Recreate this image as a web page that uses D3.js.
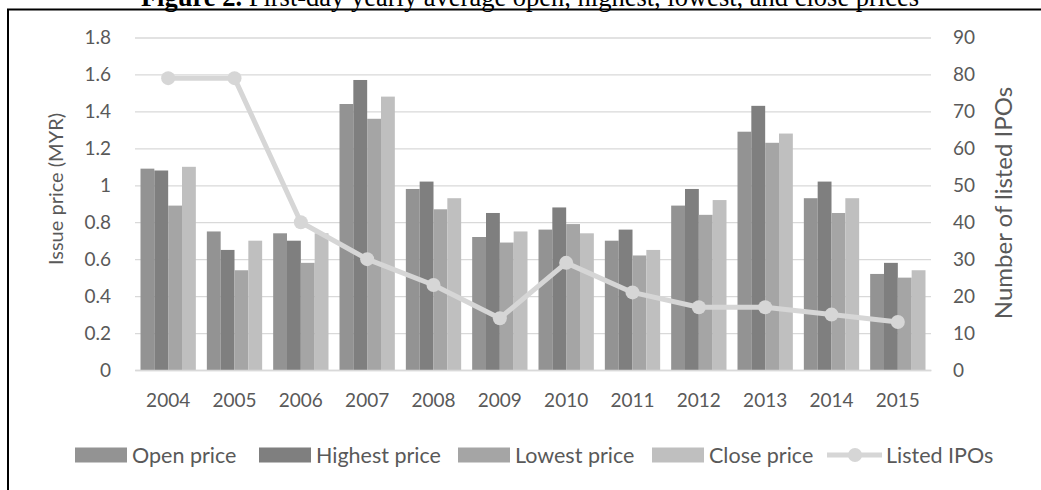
<!DOCTYPE html>
<html><head><meta charset="utf-8">
<script src="https://cdn.jsdelivr.net/npm/d3@7"></script>
<style>
html,body{margin:0;padding:0;background:#fff;}
svg{display:block;}
</style></head>
<body>
<svg id="chart" width="1041" height="490"></svg>
<script>
const years = ["2004","2005","2006","2007","2008","2009","2010","2011","2012","2013","2014","2015"];
const openPrice    = [1.09, 0.75, 0.74, 1.44, 0.98, 0.72, 0.76, 0.70, 0.89, 1.29, 0.93, 0.52];
const highestPrice = [1.08, 0.65, 0.70, 1.57, 1.02, 0.85, 0.88, 0.76, 0.98, 1.43, 1.02, 0.58];
const lowestPrice  = [0.89, 0.54, 0.58, 1.36, 0.87, 0.69, 0.79, 0.62, 0.84, 1.23, 0.85, 0.50];
const closePrice   = [1.10, 0.70, 0.74, 1.48, 0.93, 0.75, 0.74, 0.65, 0.92, 1.28, 0.93, 0.54];
const listedIPOs   = [79, 79, 40, 30, 23, 14, 29, 21, 17, 17, 15, 13];
const leftTicks  = [0, 0.2, 0.4, 0.6, 0.8, 1, 1.2, 1.4, 1.6, 1.8];
const rightTicks = [0, 10, 20, 30, 40, 50, 60, 70, 80, 90];
const seriesNames = ["Open price", "Highest price", "Lowest price", "Close price"];
const seriesColors = ["#939393", "#7f7f7f", "#a5a5a5", "#bfbfbf"];
const lineName = "Listed IPOs";
const lineColor = "#d6d6d6";

const series = [openPrice, highestPrice, lowestPrice, closePrice];
const svg = d3.select("#chart");
const font = "Lato, 'Noto Sans', sans-serif";
const textColor = "#595959";

const plot = {left: 135, right: 931, top: 37.5, bottom: 370};

const x = d3.scaleBand().domain(years).range([plot.left, plot.right]).paddingInner(0.166).paddingOuter(0.083);
const xs = d3.scaleBand().domain(d3.range(series.length)).range([0, x.bandwidth()]);
const yL = d3.scaleLinear().domain([0, 1.8]).range([plot.bottom, plot.top]);
const yR = d3.scaleLinear().domain([0, 90]).range([plot.bottom, plot.top]);

// frame
svg.append("path").attr("d", "M8,490 V9.5 H1041").attr("fill", "none").attr("stroke", "#000").attr("stroke-width", 2);

// title
const title = svg.append("text").attr("x", 530).attr("y", 6).attr("text-anchor", "middle")
  .attr("font-family", "'Liberation Serif', 'Times New Roman', serif").attr("font-size", 26.5).attr("fill", "#000");
title.append("tspan").attr("font-weight", "bold").text("Figure 2.");
title.append("tspan").text(" First-day yearly average open, highest, lowest, and close prices");

// gridlines
const gridAxis = d3.axisLeft(yL).tickValues(leftTicks).tickSize(-(plot.right - plot.left)).tickFormat("");
const g = svg.append("g").attr("transform", `translate(${plot.left},0)`).call(gridAxis);
g.select(".domain").remove();
g.selectAll(".tick line").attr("stroke", "#d9d9d9").attr("stroke-width", 1.3);

// left axis labels
const la = svg.append("g").attr("transform", `translate(${plot.left},0)`)
  .call(d3.axisLeft(yL).tickValues(leftTicks).tickSize(0).tickPadding(24).tickFormat(d => d3.format("")(d)));
la.select(".domain").remove();
la.selectAll("text").attr("font-family", font).attr("font-size", 19).attr("fill", textColor);

// right axis labels
const ra = svg.append("g").attr("transform", `translate(${plot.right},0)`)
  .call(d3.axisRight(yR).tickValues(rightTicks).tickSize(0).tickPadding(22));
ra.select(".domain").remove();
ra.selectAll("text").attr("font-family", font).attr("font-size", 19).attr("fill", textColor);

// bars
const groups = svg.append("g").selectAll("g").data(years).join("g")
  .attr("transform", d => `translate(${x(d)},0)`);
groups.selectAll("rect").data((d, i) => series.map((s, k) => ({k, v: s[i]}))).join("rect")
  .attr("x", d => xs(d.k)).attr("width", xs.bandwidth())
  .attr("y", d => yL(d.v)).attr("height", d => yL(0) - yL(d.v))
  .attr("fill", d => seriesColors[d.k]);

// x axis
const xa = svg.append("g").attr("transform", `translate(0,${plot.bottom})`)
  .call(d3.axisBottom(x).tickSize(0).tickPadding(24));
xa.select(".domain").attr("stroke", "#d9d9d9").attr("stroke-width", 1.3);
xa.selectAll("text").attr("font-family", font).attr("font-size", 19).attr("fill", textColor);

// line
const line = d3.line().x((d, i) => x(years[i]) + x.bandwidth() / 2).y(d => yR(d));
svg.append("path").datum(listedIPOs).attr("d", line).attr("fill", "none")
  .attr("stroke", lineColor).attr("stroke-width", 5).attr("stroke-linejoin", "round");
svg.append("g").selectAll("circle").data(listedIPOs).join("circle")
  .attr("cx", (d, i) => x(years[i]) + x.bandwidth() / 2).attr("cy", d => yR(d)).attr("r", 7)
  .attr("fill", lineColor);

// axis titles
svg.append("text").attr("transform", "translate(63,189) rotate(-90)").attr("text-anchor", "middle")
  .attr("font-family", font).attr("font-size", 20).attr("fill", textColor).text("Issue price (MYR)");
svg.append("text").attr("transform", "translate(1012,203) rotate(-90)").attr("text-anchor", "middle")
  .attr("font-family", font).attr("font-size", 24).attr("fill", textColor).text("Number of listed IPOs");

// legend
const legY = 455;
const legX = [75, 259, 458, 652];
seriesNames.forEach((n, k) => {
  svg.append("rect").attr("x", legX[k]).attr("y", legY - 7.5).attr("width", 52).attr("height", 15).attr("fill", seriesColors[k]);
  svg.append("text").attr("x", legX[k] + 57).attr("y", legY).attr("dy", "0.35em")
    .attr("font-family", font).attr("font-size", 21.5).attr("fill", textColor).text(n);
});
svg.append("line").attr("x1", 827).attr("x2", 882).attr("y1", legY).attr("y2", legY)
  .attr("stroke", lineColor).attr("stroke-width", 5);
svg.append("circle").attr("cx", 855).attr("cy", legY).attr("r", 7).attr("fill", lineColor);
svg.append("text").attr("x", 886).attr("y", legY).attr("dy", "0.35em")
  .attr("font-family", font).attr("font-size", 21.5).attr("fill", textColor).text(lineName);
</script>
</body></html>
